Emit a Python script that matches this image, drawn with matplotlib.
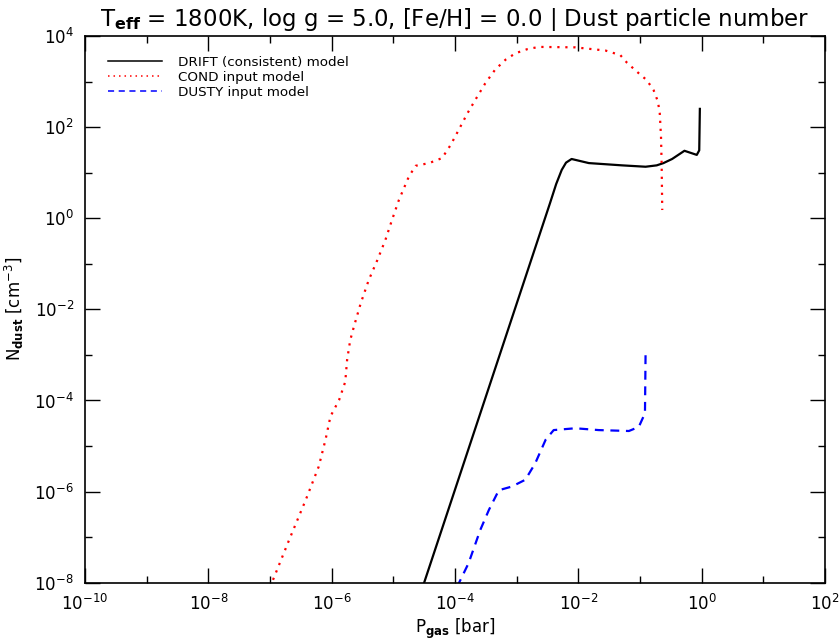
import numpy as np
import matplotlib
matplotlib.use('Agg')
import matplotlib.pyplot as plt
from matplotlib.ticker import FixedLocator, FuncFormatter, NullFormatter

# values, as log10 of pressure [bar] and of dust number [cm^-3]
drift_logp = [-4.55, -2.46, -2.36, -2.27, -2.20, -2.11, -1.83, -1.29, -0.91, -0.73,
              -0.62, -0.48, -0.28, -0.08, -0.04, -0.03]
drift_logn = [-8.20, 0.33, 0.75, 1.06, 1.22, 1.30, 1.21, 1.16, 1.13, 1.16,
              1.21, 1.30, 1.48, 1.39, 1.49, 2.40]

cond_logp = [-7.00, -6.69, -6.42, -6.21, -6.10, -6.02, -5.88, -5.78, -5.75, -5.70,
             -5.64, -5.53, -5.40, -5.26, -5.13, -5.02, -4.91, -4.75, -4.64, -4.42,
             -4.21, -4.07, -3.94, -3.80, -3.67, -3.51, -3.35, -3.18, -3.02, -2.83,
             -2.64, -2.05, -1.56, -1.32, -1.21, -1.02, -0.89, -0.78, -0.71, -0.68,
             -0.66, -0.65, -0.64]
cond_logn = [-8.10, -7.06, -6.18, -5.45, -4.86, -4.35, -3.99, -3.59, -3.11, -2.68,
             -2.38, -1.87, -1.36, -0.92, -0.48, -0.03, 0.40, 0.91, 1.15, 1.21,
             1.32, 1.61, 1.94, 2.30, 2.60, 2.96, 3.26, 3.48, 3.62, 3.71,
             3.76, 3.75, 3.68, 3.58, 3.41, 3.18, 3.03, 2.81, 2.56, 2.30,
             1.79, 1.21, 0.18]

dusty_logp = [-3.97, -3.78, -3.59, -3.45, -3.29, -3.08, -2.86, -2.70, -2.53, -2.40,
              -2.05, -1.67, -1.18, -1.02, -0.92, -0.91]
dusty_logn = [-8.10, -7.57, -6.84, -6.40, -5.97, -5.89, -5.74, -5.38, -4.86, -4.65,
              -4.61, -4.65, -4.67, -4.58, -4.28, -2.93]

x_labelled = list(range(-10, 3, 2))
x_plain = list(range(-9, 2, 2))
y_labelled = list(range(-8, 5, 2))
y_plain = list(range(-7, 4, 2))

fig = plt.figure(figsize=(8.4, 6.4), dpi=100)
ax = fig.add_axes([0.1012, 0.0895, 0.881, 0.8543])

ax.plot(10.0 ** np.array(drift_logp), 10.0 ** np.array(drift_logn),
        color='black', lw=1.6, label='DRIFT (consistent) model')
ax.plot(10.0 ** np.array(cond_logp), 10.0 ** np.array(cond_logn),
        color='red', lw=1.6, ls=(0, (1, 2.6)), label='COND input model')
ax.plot(10.0 ** np.array(dusty_logp), 10.0 ** np.array(dusty_logn),
        color='blue', lw=1.6, ls=(0, (4, 3)), label='DUSTY input model')

ax.set_xscale('log')
ax.set_yscale('log')
ax.set_xlim(1e-10, 1e2)
ax.set_ylim(1e-8, 1e4)


def pow_label(v, pos):
    return r'$10^{%d}$' % int(round(np.log10(v)))


ax.xaxis.set_major_locator(FixedLocator([10.0 ** d for d in x_labelled]))
ax.xaxis.set_minor_locator(FixedLocator([10.0 ** d for d in x_plain]))
ax.yaxis.set_major_locator(FixedLocator([10.0 ** d for d in y_labelled]))
ax.yaxis.set_minor_locator(FixedLocator([10.0 ** d for d in y_plain]))
ax.xaxis.set_major_formatter(FuncFormatter(pow_label))
ax.yaxis.set_major_formatter(FuncFormatter(pow_label))
ax.xaxis.set_minor_formatter(NullFormatter())
ax.yaxis.set_minor_formatter(NullFormatter())
ax.tick_params(which='major', direction='in', top=True, right=True,
               length=10.5, width=1.0, labelsize=12, pad=8)
ax.tick_params(which='minor', direction='in', top=True, right=True,
               length=5, width=1.0)
for sp in ax.spines.values():
    sp.set_linewidth(1.2)

ax.set_title(r'T$_{\mathbf{eff}}$ = 1800K, log g = 5.0, [Fe/H] = 0.0 | Dust particle number',
             fontsize=16.5, pad=7)
ax.set_xlabel(r'P$_{\mathbf{gas}}$ [bar]', fontsize=12, labelpad=2)
ax.set_ylabel(r'N$_{\mathbf{dust}}$ [cm$^{-3}$]', fontsize=12, labelpad=6)

leg = ax.legend(loc='upper left', frameon=False, fontsize=9.7, handlelength=4.0,
                handletextpad=1.2, labelspacing=0.15, borderaxespad=0.0,
                bbox_to_anchor=(0.024, 0.974))
for ln in leg.get_lines():
    ln.set_linewidth(1.1)

fig.savefig('out.png', dpi=100)
